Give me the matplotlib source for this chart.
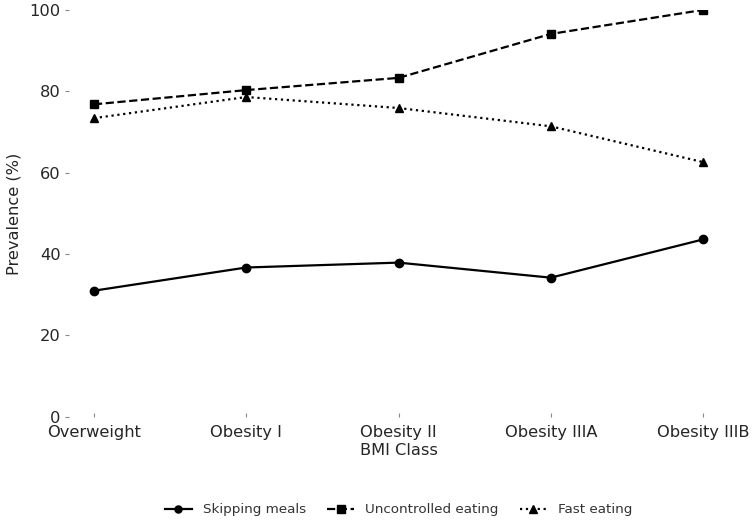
import matplotlib.pyplot as plt

bmi_classes = ['Overweight', 'Obesity I', 'Obesity II', 'Obesity IIIA', 'Obesity IIIB']
skipping_meals = [31.0, 36.7, 37.9, 34.2, 43.6]
uncontrolled_eating = [76.8, 80.3, 83.3, 94.1, 100.0]
fast_eating = [73.4, 78.6, 75.9, 71.4, 62.6]

plt.rcParams['font.family'] = ['DejaVu Sans']

fig, ax = plt.subplots(figsize=(7.55, 5.23), dpi=100)
fig.subplots_adjust(left=0.0914, right=0.9643, top=0.981, bottom=0.203)

x = range(len(bmi_classes))
ax.plot(x, skipping_meals, color='black', linestyle='-', marker='o', markersize=6,
        linewidth=1.6, label='Skipping meals')
ax.plot(x, uncontrolled_eating, color='black', linestyle='--', marker='s', markersize=6,
        linewidth=1.6, label='Uncontrolled eating')
ax.plot(x, fast_eating, color='black', linestyle=':', marker='^', markersize=6,
        linewidth=1.6, label='Fast eating')

ax.set_xticks(list(x))
ax.set_xticklabels(bmi_classes)
ax.set_xlim(-0.164, 4.164)
ax.set_ylim(0, 100)
ax.set_yticks([0, 20, 40, 60, 80, 100])
ax.set_xlabel('BMI Class', fontsize=11.7, color='#262626', labelpad=2)
ax.set_ylabel('Prevalence (%)', fontsize=11.7, color='#262626', labelpad=6)
ax.tick_params(axis='both', labelsize=11.7, colors='#262626', length=3, width=0.8,
               color='#888888')
ax.tick_params(axis='y', pad=3)
ax.tick_params(axis='x', direction='in', pad=6)
for s in ax.spines.values():
    s.set_visible(False)

ax.legend(loc='upper center', bbox_to_anchor=(0.5, -0.183), ncol=3, frameon=False,
          fontsize=9.7, labelcolor='#333333', columnspacing=1.6, markerscale=0.85)

plt.savefig('out.png', dpi=100)
